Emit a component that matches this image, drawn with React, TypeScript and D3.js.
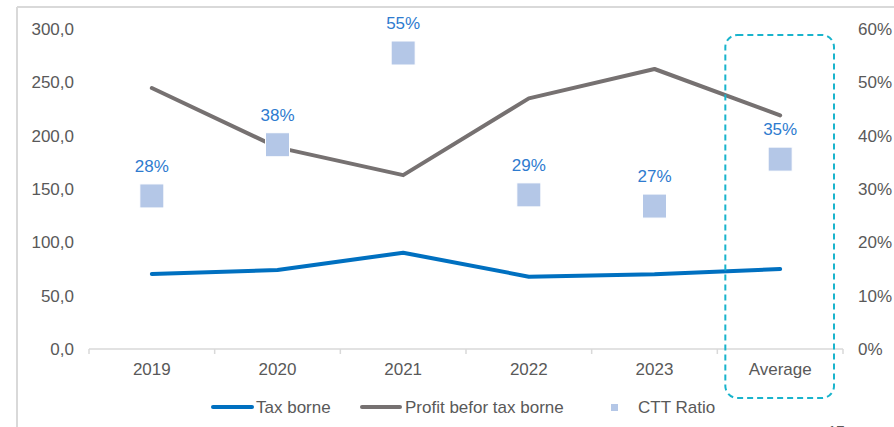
import React from "react";
import * as d3 from "d3";

const categories = ["2019", "2020", "2021", "2022", "2023", "Average"];
const taxBorne = [70.3, 74, 90.3, 67.8, 70, 75];
const profitBeforeTax = [244.7, 189, 163, 235, 262.5, 219];
const cttRatio = [0.287, 0.383, 0.555, 0.289, 0.268, 0.356];
const cttLabels = ["28%", "38%", "55%", "29%", "27%", "35%"];
const leftTicks = [0, 50, 100, 150, 200, 250, 300];
const rightTicks = [0, 0.1, 0.2, 0.3, 0.4, 0.5, 0.6];
const legendItems = ["Tax borne", "Profit befor tax borne", "CTT Ratio"];

const W = 894;
const H = 427;
const FONT = "'Liberation Sans', Arial, sans-serif";
const TEXT = "#595959";
const BLUE = "#0070C0";
const GREY = "#767171";
const SQUARE = "#B4C7E7";
const LABEL = "#2E7BCF";
const CYAN = "#19B4CC";

export default function App() {
  const x = d3.scaleBand<string>().domain(categories).range([89, 843]);
  const yL = d3.scaleLinear().domain([0, 300]).range([349, 29]);
  const yR = d3.scaleLinear().domain([0, 0.6]).range([349, 29]);
  const cx = (c: string) => (x(c) as number) + x.bandwidth() / 2;

  const line = d3
    .line<number>()
    .x((_, i) => cx(categories[i]))
    .y((d) => yL(d));

  const avgX0 = x("Average") as number;
  const bw = x.bandwidth();

  return (
    <svg
      width={W}
      height={H}
      style={{ position: "absolute", left: 0, top: 0, display: "block" }}
      fontFamily={FONT}
    >
      <rect x={0} y={0} width={W} height={H} fill="#fff" />
      {/* outer frame */}
      <line x1={17} y1={7} x2={W} y2={7} stroke="#D9D9D9" strokeWidth={2} />
      <line x1={17} y1={7} x2={17} y2={H} stroke="#D9D9D9" strokeWidth={2} />

      {/* left axis labels */}
      {leftTicks.map((t) => (
        <text
          key={"l" + t}
          x={74}
          y={yL(t)}
          dy="0.35em"
          textAnchor="end"
          fontSize={17}
          fill={TEXT}
        >
          {d3.format(".1f")(t).replace(".", ",")}
        </text>
      ))}
      {/* right axis labels */}
      {rightTicks.map((t) => (
        <text
          key={"r" + t}
          x={858}
          y={yR(t)}
          dy="0.35em"
          textAnchor="start"
          fontSize={17}
          fill={TEXT}
        >
          {d3.format(".0%")(t)}
        </text>
      ))}

      {/* x axis */}
      <line x1={89} y1={349} x2={843} y2={349} stroke="#D9D9D9" strokeWidth={1.5} />
      {categories.concat([""]).map((c, i) => {
        const tx = 89 + i * bw;
        return (
          <line key={"t" + i} x1={tx} y1={349} x2={tx} y2={354} stroke="#D9D9D9" strokeWidth={1.5} />
        );
      })}
      {categories.map((c) => (
        <text
          key={"x" + c}
          x={cx(c)}
          y={375}
          textAnchor="middle"
          fontSize={17}
          fill={TEXT}
        >
          {c}
        </text>
      ))}

      {/* lines */}
      <path d={line(taxBorne) || ""} fill="none" stroke={BLUE} strokeWidth={4} strokeLinecap="round" strokeLinejoin="round" />
      <path d={line(profitBeforeTax) || ""} fill="none" stroke={GREY} strokeWidth={4} strokeLinecap="round" strokeLinejoin="round" />

      {/* CTT squares and labels */}
      {cttRatio.map((v, i) => (
        <g key={"s" + i}>
          <rect
            x={cx(categories[i]) - 12}
            y={yR(v) - 12}
            width={24}
            height={24}
            fill={SQUARE}
            stroke="#fff"
            strokeWidth={1}
          />
          <text
            x={cx(categories[i])}
            y={yR(v) - 30}
            dy="0.35em"
            textAnchor="middle"
            fontSize={17}
            fill={LABEL}
          >
            {cttLabels[i]}
          </text>
        </g>
      ))}

      {/* average highlight box */}
      <rect
        x={avgX0 + 8}
        y={35}
        width={bw - 17}
        height={363}
        rx={12}
        ry={12}
        fill="none"
        stroke={CYAN}
        strokeWidth={2}
        strokeDasharray="6 4"
      />

      {/* legend */}
      <line x1={213} y1={407} x2={252} y2={407} stroke={BLUE} strokeWidth={4} strokeLinecap="round" />
      <text x={256} y={407} dy="0.35em" fontSize={17} fill={TEXT}>{legendItems[0]}</text>
      <line x1={362} y1={407} x2={400} y2={407} stroke={GREY} strokeWidth={4} strokeLinecap="round" />
      <text x={405} y={407} dy="0.35em" fontSize={17} fill={TEXT}>{legendItems[1]}</text>
      <rect x={611} y={404} width={7} height={7} fill={SQUARE} />
      <text x={638} y={407} dy="0.35em" fontSize={17} fill={TEXT}>{legendItems[2]}</text>

      {/* page number, cut off */}
      <text x={828} y={436} fontSize={15} fill={TEXT}>17</text>
    </svg>
  );
}
